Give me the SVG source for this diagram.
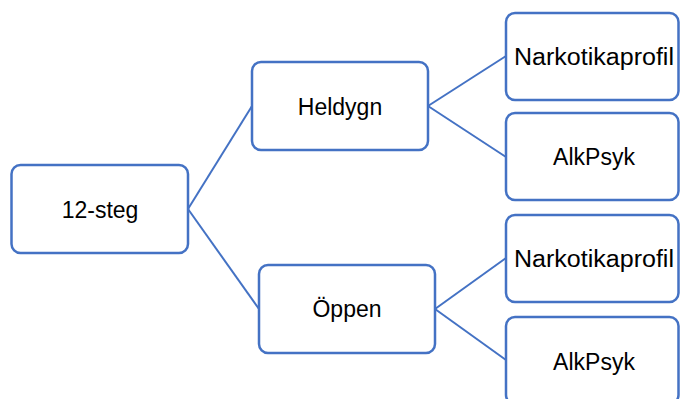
<svg xmlns="http://www.w3.org/2000/svg" width="680" height="399" viewBox="0 0 680 399">
<style>
.box{fill:#fff;stroke:#4472C4;stroke-width:2.5}
.lbl{font-family:"Liberation Sans",Arial,sans-serif;font-size:23px;fill:#000;text-anchor:middle}
.conn{stroke:#4472C4;stroke-width:2;fill:none}
</style>
<rect width="680" height="399" fill="#fff"/>
<g id="connectors">
<line class="conn" x1="188" y1="209" x2="252" y2="106"/>
<line class="conn" x1="188" y1="209" x2="259" y2="309"/>
<line class="conn" x1="428" y1="106" x2="506" y2="56"/>
<line class="conn" x1="428" y1="106" x2="506" y2="157"/>
<line class="conn" x1="435" y1="309" x2="506" y2="258"/>
<line class="conn" x1="435" y1="309" x2="506" y2="360"/>
</g>
<g id="n12steg">
<rect class="box" x="11.5" y="165" width="176.5" height="88" rx="9"/>
<text class="lbl" x="100" y="218">12-steg</text>
</g>
<g id="heldygn">
<rect class="box" x="252" y="62" width="176" height="88" rx="9"/>
<text class="lbl" x="340" y="115">Heldygn</text>
</g>
<g id="oppen">
<rect class="box" x="259" y="265" width="176" height="88" rx="9"/>
<text class="lbl" x="347" y="317">Öppen</text>
</g>
<g id="narko1">
<rect class="box" x="506" y="13" width="172.5" height="87" rx="9"/>
<text class="lbl" x="594" y="65" textLength="160" lengthAdjust="spacingAndGlyphs">Narkotikaprofil</text>
</g>
<g id="alk1">
<rect class="box" x="506" y="113" width="172.5" height="87" rx="9"/>
<text class="lbl" x="594" y="165">AlkPsyk</text>
</g>
<g id="narko2">
<rect class="box" x="506" y="215" width="172.5" height="87" rx="9"/>
<text class="lbl" x="594" y="267" textLength="160" lengthAdjust="spacingAndGlyphs">Narkotikaprofil</text>
</g>
<g id="alk2">
<rect class="box" x="506" y="317" width="172.5" height="87" rx="9"/>
<text class="lbl" x="594" y="370">AlkPsyk</text>
</g>
</svg>
